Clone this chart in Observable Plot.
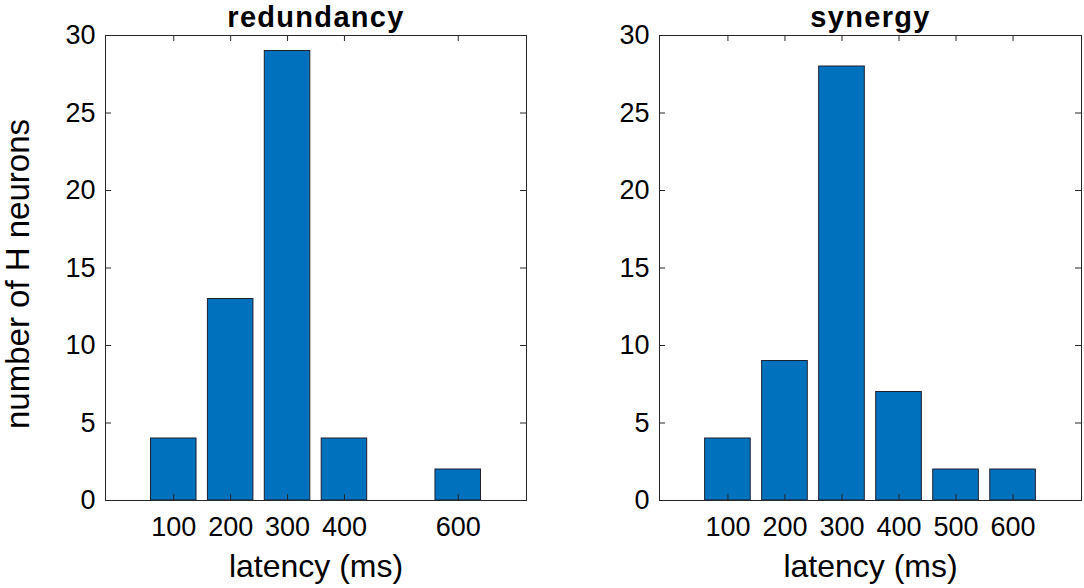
<!DOCTYPE html>
<html>
<head>
<meta charset="utf-8">
<script src="https://cdn.jsdelivr.net/npm/d3@7"></script>
<script src="https://cdn.jsdelivr.net/npm/@observablehq/plot@0.6"></script>
<style>
  html, body { margin: 0; padding: 0; background: #fff; }
  #wrap { display: flex; width: 1084px; height: 588px; }
  svg { font-family: "Liberation Sans", Arial, Helvetica, sans-serif; }
</style>
</head>
<body>
<div id="wrap"></div>
<script>
// Data
const redundancyLatency = [100, 200, 300, 400, 600];
const redundancyCounts  = [4, 13, 29, 4, 2];
const synergyLatency = [100, 200, 300, 400, 500, 600];
const synergyCounts  = [4, 9, 28, 7, 2, 2];
const yTicks = [0, 5, 10, 15, 20, 25, 30];
const titles = ["redundancy", "synergy"];
const xLabel = "latency (ms)";
const yLabel = "number of H neurons";

const BAR_W = 80; // 0.8 of 100 ms spacing
const H = 588, MT = 35, MB = 88;
const plotH = H - MT - MB;

function panel(latency, counts, title, opts) {
  const data = latency.map((x, i) => ({x, n: counts[i]}));
  const plotW = opts.width - opts.marginLeft - opts.marginRight;
  const marks = [
    Plot.rectY(data, {
      x1: d => d.x - BAR_W / 2, x2: d => d.x + BAR_W / 2,
      y1: 0, y2: "n",
      fill: "#0072BD", stroke: "#1f1f2e", strokeWidth: 1
    }),
    // inward ticks, bottom & top
    Plot.tickX(latency, {x: d => d, insetTop: plotH - 6, stroke: "#262626", strokeWidth: 1}),
    Plot.tickX(latency, {x: d => d, insetBottom: plotH - 6, stroke: "#262626", strokeWidth: 1}),
    // inward ticks, left & right
    Plot.tickY(yTicks, {y: d => d, insetRight: plotW - 6, stroke: "#262626", strokeWidth: 1}),
    Plot.tickY(yTicks, {y: d => d, insetLeft: plotW - 6, stroke: "#262626", strokeWidth: 1}),
    Plot.frame({stroke: "#262626", strokeWidth: 1}),
    Plot.axisX(latency, {anchor: "bottom", tickSize: 0, tickPadding: 16, fontSize: 27, fill: "#000", label: null}),
    Plot.axisY(yTicks, {anchor: "left", tickSize: 0, tickPadding: 10, fontSize: 27, fill: "#000", label: null}),
    Plot.text([xLabel], {frameAnchor: "bottom", textAnchor: "middle", lineAnchor: "middle", dy: 66, fontSize: 32, fill: "#000"}),
    Plot.text([title], {frameAnchor: "top", textAnchor: "middle", lineAnchor: "middle", dy: -17.8, fontSize: 29, fontWeight: "bold", fill: "#000"})
  ];
  if (opts.yLabel) {
    marks.push(Plot.text([opts.yLabel], {frameAnchor: "left", textAnchor: "middle", lineAnchor: "middle", dx: -87, dy: 6, rotate: -90, fontSize: 33, fill: "#000"}));
  }
  const svg = Plot.plot({
    width: opts.width,
    height: H,
    marginLeft: opts.marginLeft,
    marginRight: opts.marginRight,
    marginTop: MT,
    marginBottom: MB,
    style: {background: "#fff", fontFamily: '"Liberation Sans", Arial, Helvetica, sans-serif'},
    x: {domain: [-20, 720]},
    y: {domain: [0, 30]},
    marks
  });
  d3.select(svg).selectAll("text").filter(function() { return this.textContent === title; })
    .style("letter-spacing", "1.3px");
  return svg;
}

const wrap = document.getElementById("wrap");
wrap.appendChild(panel(redundancyLatency, redundancyCounts, titles[0], {width: 542, marginLeft: 105, marginRight: 16, yLabel}));
wrap.appendChild(panel(synergyLatency, synergyCounts, titles[1], {width: 542, marginLeft: 117, marginRight: 3}));
</script>
</body>
</html>
